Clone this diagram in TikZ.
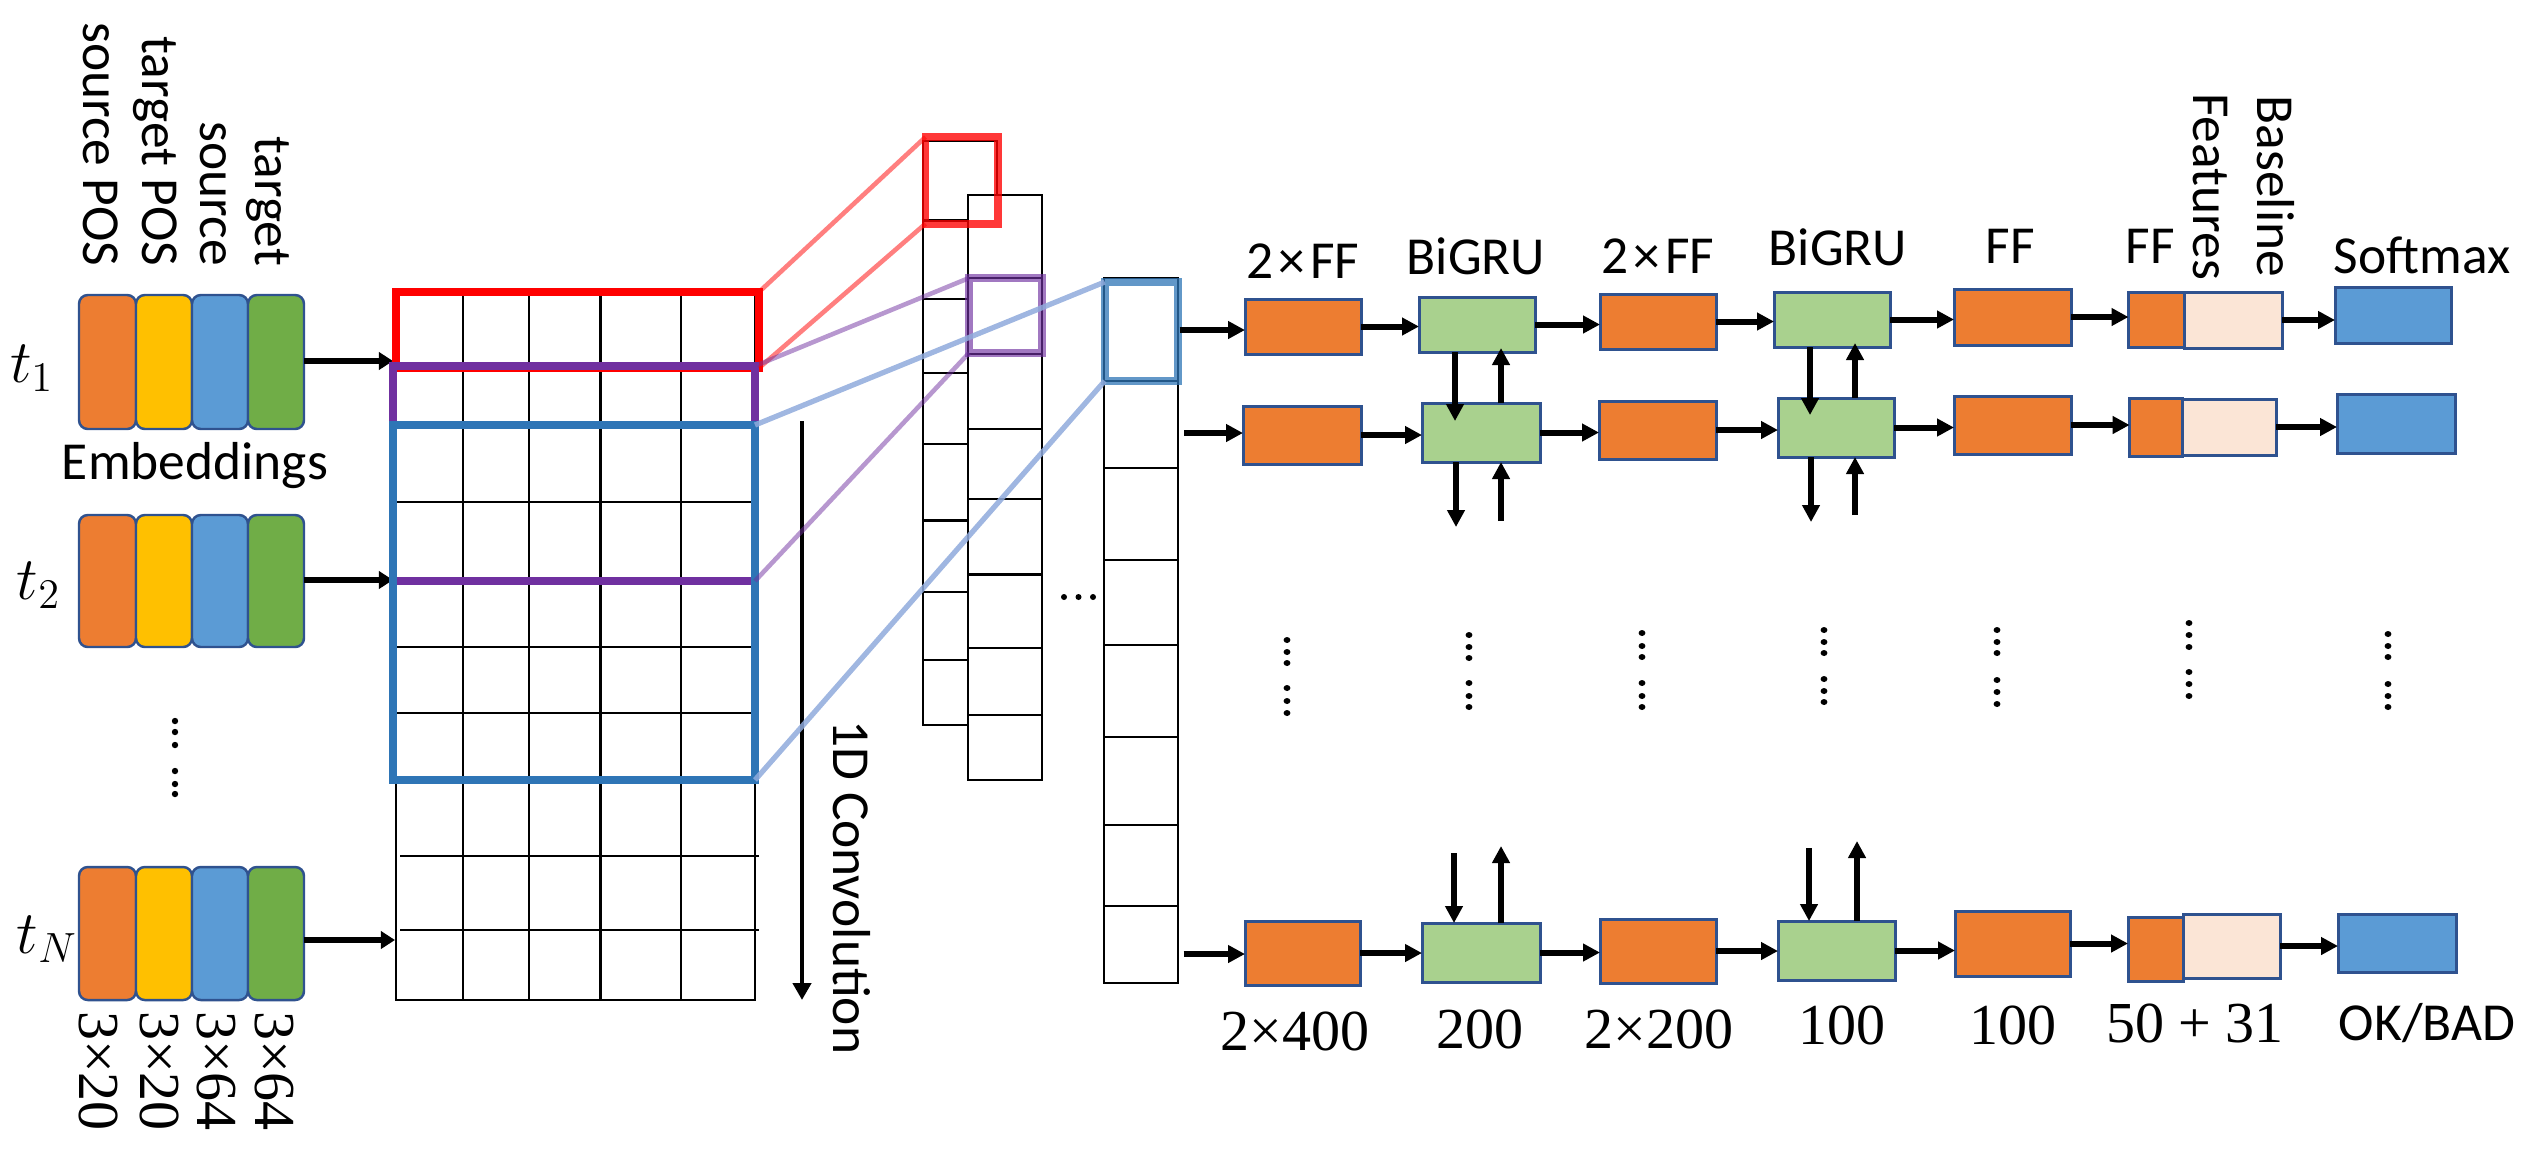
\documentclass[tikz,border=0pt]{standalone}
\usepackage{fontspec}
\setmainfont{Carlito}
\newfontfamily\numfont{Liberation Serif}
\usetikzlibrary{arrows.meta}
\definecolor{cOr}{HTML}{ED7D31}
\definecolor{cYe}{HTML}{FFC000}
\definecolor{cBl}{HTML}{5B9BD5}
\definecolor{cGr}{HTML}{70AD47}
\definecolor{cBd}{HTML}{2F528F}
\definecolor{cLg}{HTML}{A9D18E}
\definecolor{cPe}{HTML}{FBE5D6}
\definecolor{cRed}{HTML}{FF0000}
\definecolor{cPu}{HTML}{7030A0}
\definecolor{cBb}{HTML}{2E75B6}
\definecolor{cLb}{HTML}{8FAADC}
\newcommand\rbox[6]{\node[#2,minimum width={((#5)-(#3))*0.01cm},minimum height={((#6)-(#4))*0.01cm}] (#1) at ({((#3)+(#5))/2},{((#4)+(#6))/2}) {};}
\newcommand\embrow[3]{%
  \rbox{#1a}{emb,fill=cOr}{79}{#2}{136}{#3}
  \rbox{#1b}{emb,fill=cYe}{136}{#2}{192}{#3}
  \rbox{#1c}{emb,fill=cBl}{192}{#2}{248}{#3}
  \rbox{#1d}{emb,fill=cGr}{248}{#2}{304}{#3}}
\newcommand\tff{2\hspace{0.05cm}×\hspace{0.05cm}FF}
\begin{document}
\begin{tikzpicture}[x=0.01cm,y=-0.01cm,
  box/.style={draw=cBd,line width=0.85pt,inner sep=0pt,outer sep=0pt},
  emb/.style={draw=cBd,line width=0.7pt,rounded corners=2.5pt,inner sep=0pt,outer sep=0pt},
  cell/.style={draw=black,line width=0.6pt,inner sep=0pt,outer sep=0pt},
  hl/.style={line width=2.2pt,inner sep=0pt,outer sep=0pt},
  lab/.style={font=\fontsize{15.2}{18}\selectfont,inner sep=0pt,outer sep=0pt},
  num/.style={font=\numfont\fontsize{16.5}{19}\selectfont,inner sep=0pt,outer sep=0pt},
  mlab/.style={font=\fontsize{16.5}{19}\selectfont,inner sep=0pt,outer sep=0pt},
  vlab/.style={lab,rotate=-90},
  vnum/.style={num,rotate=-90},
  harr/.style={line width=1.7pt,-{Triangle[length=0.17cm,width=0.17cm]}},
  larr/.style={line width=1.5pt,-{Triangle[length=0.14cm,width=0.17cm]}},
  varr/.style={line width=1.85pt,-{Triangle[length=0.17cm,width=0.17cm]}},
  lred/.style={draw=cRed,opacity=0.5,line width=1.3pt},
  lpur/.style={draw=cPu,opacity=0.5,line width=1.3pt},
  lblu/.style={draw=cLb,opacity=0.85,line width=1.5pt}]
\useasboundingbox (0,0) rectangle (2540,1160);

% ---------- embeddings ----------
\embrow{e1}{295}{429}
\embrow{e2}{515}{647}
\embrow{eN}{867}{1000}
\node[vlab,anchor=base east] (l1) at (83,266) {source POS};
\node[vlab,anchor=base east] (l2) at (142,266) {target POS};
\node[vlab,anchor=base east] (l3) at (200,266) {source};
\node[vlab,anchor=base east] (l4) at (255,266) {target};
\node[lab,anchor=base] (emb) at (195,479) {Embeddings};
\node[mlab,anchor=base west] (t1) at (10,382) {$t_1$};
\node[mlab,anchor=base west] (t2) at (17,599) {$t_2$};
\node[mlab,anchor=base west] (tN) at (17,953) {$t_N$};
\node[vnum,anchor=base west] (d1) at (79,1011) {3×20};
\node[vnum,anchor=base west] (d2) at (140,1011) {3×20};
\node[vnum,anchor=base west] (d3) at (197,1011) {3×64};
\node[vnum,anchor=base west] (d4) at (255,1011) {3×64};
\foreach \y in {721,732,745,771,784,794} \fill (175,\y) circle[radius=0.032cm];

% ---------- input matrix ----------
\rbox{grid}{cell,line width=0.8pt}{396}{292}{755}{1000}
\foreach \x in {462.6,528.7,600.5,681.3} \draw[cell] (\x,292) -- (\x,1000);
\foreach \y in {370,425,502,581,647,713,780} \draw[cell] (396,\y) -- (755,\y);
\foreach \y in {856,930} \draw[cell] (400,\y) -- (759,\y);

\coordinate (g1) at (393,361);
\coordinate (g2) at (393,580);
\coordinate (gN) at (395,940);
\draw[larr] (e1d.east |- g1) -- (g1);
\draw[larr] (e2d.east |- g2) -- (g2);
\draw[larr] (eNd.east |- gN) -- (gN);

\rbox{rbig}{hl,draw=cRed}{396}{292}{759}{368}
\rbox{pbig}{hl,draw=cPu}{393}{366}{755}{581}
\rbox{bbig}{hl,draw=cBb}{393}{425}{755}{780}

% convolution arrow
\coordinate (ca) at (802,421);
\coordinate (cb) at (802,1000);
\draw[line width=1.3pt,-{Triangle[length=0.17cm,width=0.18cm]}] (ca) -- (cb);
\node[vlab,anchor=base west] (conv) at (833,720) {1D Convolution};

% ---------- feature columns ----------
\rbox{colA}{cell,fill=white}{923}{141}{997}{725}
\foreach \y in {220.5,298.7,373,443.75,520.5,592.4,660} \draw[cell] (923,\y) -- (997,\y);
\rbox{colB}{cell,fill=white}{968}{195}{1042}{780}
\foreach \y in {277.7,353.6,429,498.7,574.5,647.8,714.7} \draw[cell] (968,\y) -- (1042,\y);
\rbox{colC}{cell,fill=white}{1104}{278}{1178}{983}
\foreach \y in {381,468,560,645,737,825,906} \draw[cell] (1104,\y) -- (1178,\y);
\foreach \x in {1064,1078.5,1093} \fill (\x,597) circle[radius=0.03cm];

\rbox{rsm}{hl,draw=cRed,draw opacity=0.78}{925.5}{137}{998}{223.7}
\rbox{psm}{hl,draw=cPu,draw opacity=0.65}{969}{278}{1042}{353}
\rbox{bsm}{hl,draw=cBb,draw opacity=0.75}{1104.7}{282}{1178}{381}

\draw[lred] (rbig.north east) -- (rsm.north west);
\draw[lred] (rbig.south east) -- (rsm.south west);
\draw[lpur] (pbig.north east) -- (psm.north west);
\draw[lpur] (pbig.south east) -- (psm.south west);
\draw[lblu] (bbig.north east) -- (bsm.north west);
\draw[lblu] (bbig.south east) -- (bsm.south west);

% ---------- right-hand network ----------
% row 1
\rbox{a1}{box,fill=cOr}{1245}{299}{1361}{354}
\rbox{b1}{box,fill=cLg}{1419}{297}{1535}{352}
\rbox{c1}{box,fill=cOr}{1600}{294}{1716}{349}
\rbox{dd1}{box,fill=cLg}{1774}{292}{1890}{347}
\rbox{f1}{box,fill=cOr}{1954}{289}{2071}{345}
\rbox{s1}{box,fill=cOr}{2128.5}{292}{2184.7}{347}
\rbox{p1}{box,fill=cPe}{2184.7}{292}{2282}{348}
\rbox{m1}{box,fill=cBl}{2335}{287}{2451}{343}
% row 2
\rbox{a2}{box,fill=cOr}{1243}{406}{1361}{464}
\rbox{b2}{box,fill=cLg}{1422}{403}{1540}{462}
\rbox{c2}{box,fill=cOr}{1599}{401}{1716}{459}
\rbox{dd2}{box,fill=cLg}{1778}{398}{1894}{457}
\rbox{f2}{box,fill=cOr}{1954}{396}{2071}{454}
\rbox{s2}{box,fill=cOr}{2129.6}{398}{2182}{456}
\rbox{p2}{box,fill=cPe}{2182}{399}{2276}{455}
\rbox{m2}{box,fill=cBl}{2337}{394}{2455}{453}
% row N
\rbox{aN}{box,fill=cOr}{1245}{921}{1360}{985}
\rbox{bN}{box,fill=cLg}{1422}{923}{1540}{982}
\rbox{cN}{box,fill=cOr}{1600}{919}{1716}{983}
\rbox{ddN}{box,fill=cLg}{1778}{921}{1895}{980}
\rbox{fN}{box,fill=cOr}{1955}{911}{2070}{976}
\rbox{sN}{box,fill=cOr}{2128}{917}{2183}{981}
\rbox{pN}{box,fill=cPe}{2183}{914}{2280}{978}
\rbox{mN}{box,fill=cBl}{2338}{914}{2456}{972}

% horizontal arrows
\coordinate (in1) at (1179.5,330);
\coordinate (in2) at (1184,433);
\coordinate (inN) at (1183.7,954);
\draw[harr] (in1) -- (in1 -| a1.west);
\draw[harr] (in2) -- (in2 -| a2.west);
\draw[harr] (inN) -- (inN -| aN.west);
\foreach \r in {1,2,N}{
  \draw[harr] (a\r.east) -- (a\r.east -| b\r.west);
  \draw[harr] (b\r.east) -- (b\r.east -| c\r.west);
  \draw[harr] (c\r.east) -- (c\r.east -| dd\r.west);
  \draw[harr] (dd\r.east) -- (dd\r.east -| f\r.west);
  \draw[harr] (f\r.east) -- (f\r.east -| s\r.west);
  \draw[harr] (p\r.east) -- (p\r.east -| m\r.west);
}

% vertical (recurrent) arrows
\coordinate (xb1) at (1455,0);
\coordinate (xb2) at (1501,0);
\coordinate (xd1) at (1810,0);
\coordinate (xd2) at (1855,0);
\draw[varr,shorten >=-0.18cm] (b1.south -| xb1) -- (b2.north -| xb1);
\draw[varr,shorten >=-0.04cm] (b2.north -| xb2) -- (b1.south -| xb2);
\draw[varr,shorten >=-0.17cm] (dd1.south -| xd1) -- (dd2.north -| xd1);
\draw[varr,shorten >=-0.04cm] (dd2.north -| xd2) -- (dd1.south -| xd2);
\coordinate (bdn) at (1456,527);
\coordinate (bup) at (1501,521);
\coordinate (ddn) at (1811,522);
\coordinate (dup) at (1855,515);
\draw[varr] (b2.south -| bdn) -- (bdn);
\draw[varr] (bup) -- (b2.south -| bup);
\draw[varr] (dd2.south -| ddn) -- (ddn);
\draw[varr] (dup) -- (dd2.south -| dup);
\coordinate (bNd) at (1454,853);
\coordinate (bNu) at (1501,846);
\coordinate (dNd) at (1809,848);
\coordinate (dNu) at (1857,841);
\draw[varr] (bNd) -- (bN.north -| bNd);
\draw[varr] (bN.north -| bNu) -- (bNu);
\draw[varr] (dNd) -- (ddN.north -| dNd);
\draw[varr] (ddN.north -| dNu) -- (dNu);

% vertical dots
\foreach \x/\ya/\yb/\yc/\yd/\ye/\yf in {1287/640/652/663/688/701/713,1469/635/647/658/683/696/707,1642/633/646/657/683/696/707,1824/630/642/653/679/691/702,1997/630/642/653/680/692/704,2189/623/635/647/672/684/696,2388/634/646/657/684/696/707}
  \foreach \y in {\ya,\yb,\yc,\yd,\ye,\yf} \fill (\x,\y) ellipse[x radius=0.034cm,y radius=0.03cm];

% top labels
\node[lab,anchor=base] (ta) at (1303,278) {\tff};
\node[lab,anchor=base] (tb) at (1476,274) {BiGRU};
\node[lab,anchor=base] (tc) at (1658,273) {\tff};
\node[lab,anchor=base] (td) at (1838,265) {BiGRU};
\node[lab,anchor=base] (tf) at (2010,263) {FF};
\node[lab,anchor=base] (ts) at (2150,263) {FF};
\node[vlab,anchor=base east] (tfe) at (2193,280) {Features};
\node[vlab,anchor=base east] (tbl) at (2257,277) {Baseline};
\node[lab,anchor=base] (tm) at (2422,273) {Softmax};

% bottom labels
\node[num,anchor=base] (ba) at (1295,1050) {2×400};
\node[num,anchor=base] (bb) at (1480,1048) {200};
\node[num,anchor=base] (bc) at (1659,1048) {2×200};
\node[num,anchor=base] (bd) at (1842,1044) {100};
\node[num,anchor=base] (bf) at (2013,1044) {100};
\node[num,anchor=base] (bs) at (2195,1042) {50 + 31};
\node[lab,anchor=base] (bm) at (2427,1040) {OK/BAD};
\end{tikzpicture}
\end{document}
